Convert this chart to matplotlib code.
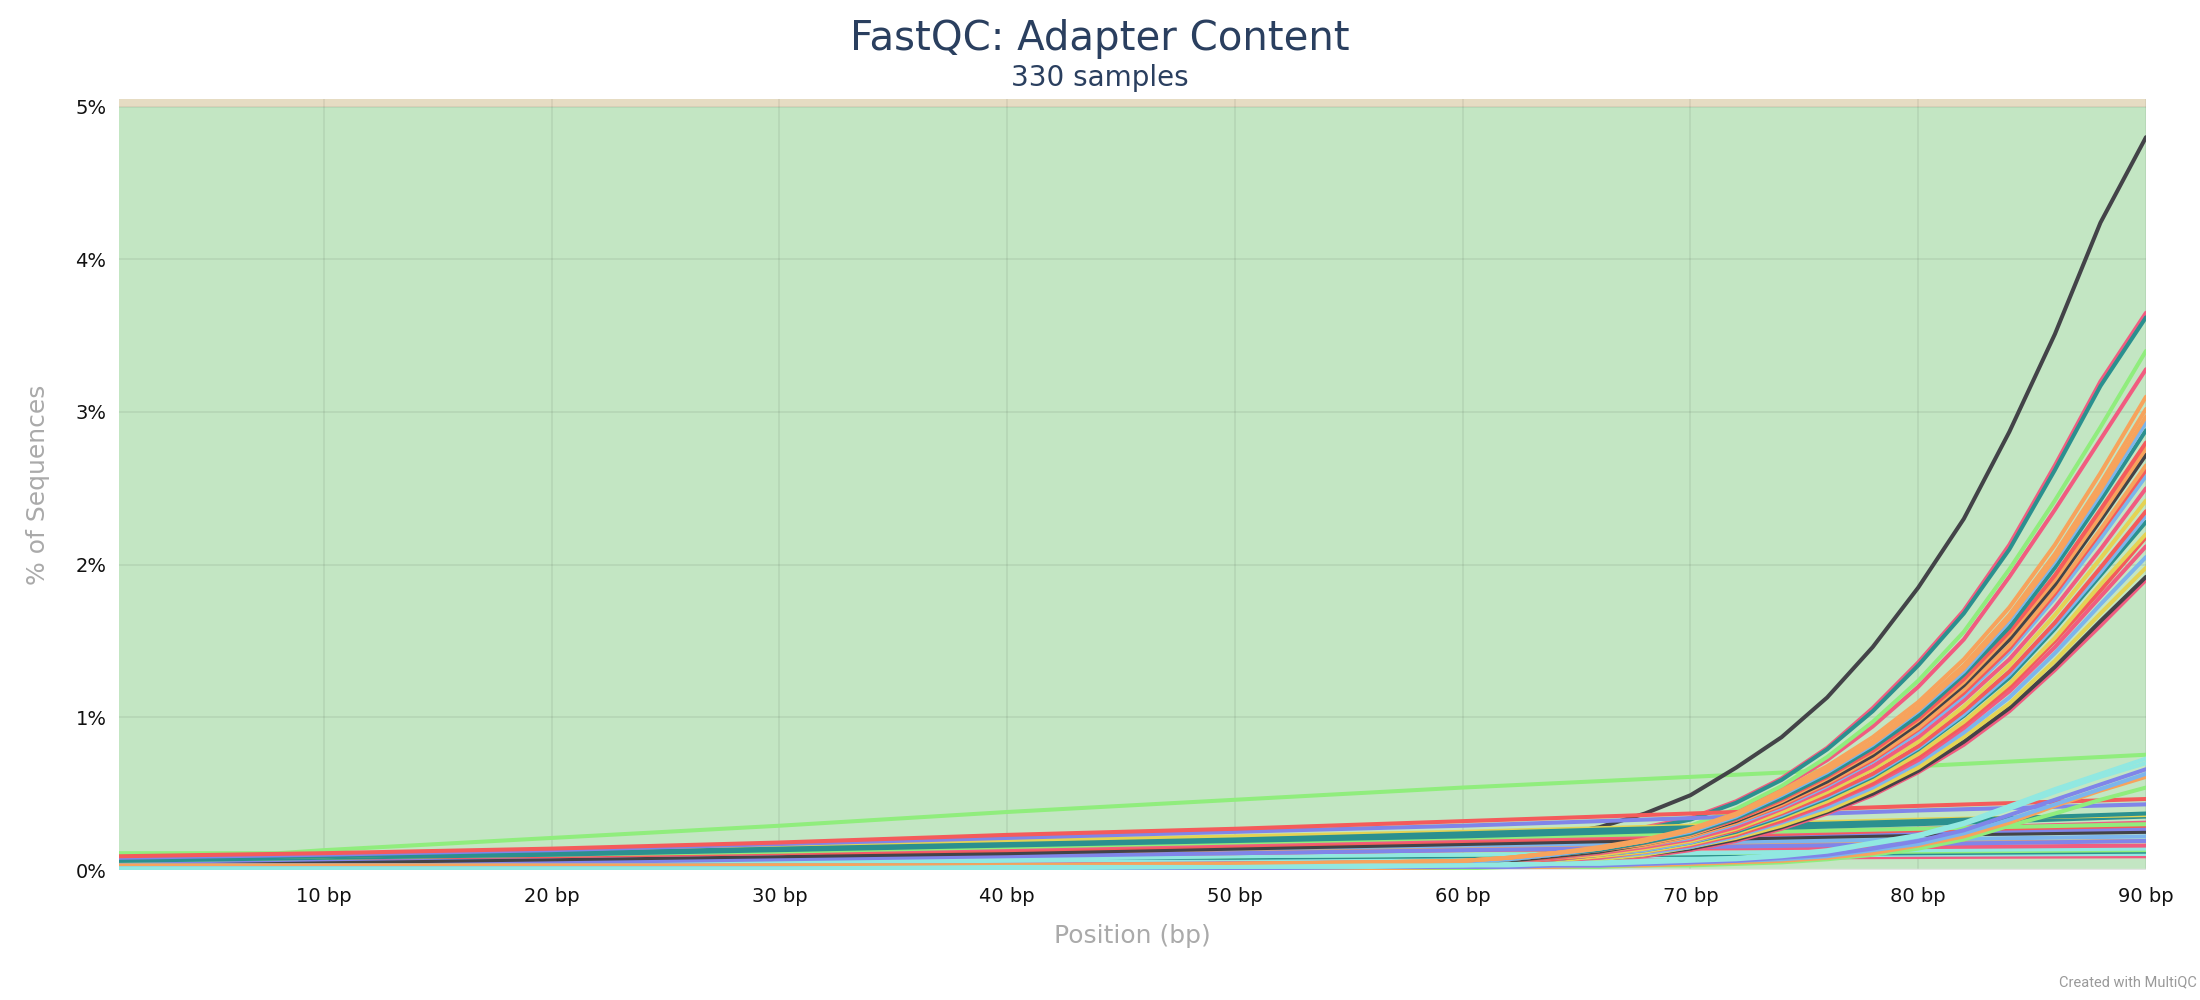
import matplotlib
matplotlib.use("Agg")
import matplotlib.pyplot as plt

# ---------------- palette (MultiQC / Highcharts default) ----------------
BLUE, DARK, GREEN, ORANGE, PURPLE = "#7cb5ec", "#434348", "#90ed7d", "#f7a35c", "#8085e9"
PINK, YELLOW, TEAL, RED, CYAN = "#f15c80", "#e4d354", "#2b908f", "#f45b5b", "#91e8e1"

TITLE = "FastQC: Adapter Content"
SUBTITLE = "330 samples"
X_LABEL = "Position (bp)"
Y_LABEL = "% of Sequences"
X_TICKS = [10, 20, 30, 40, 50, 60, 70, 80, 90]
X_TICK_LABELS = ["10 bp", "20 bp", "30 bp", "40 bp", "50 bp", "60 bp", "70 bp", "80 bp", "90 bp"]
Y_TICKS = [0, 1, 2, 3, 4, 5]
Y_TICK_LABELS = ["0%", "1%", "2%", "3%", "4%", "5%"]

# ---------------- positions ----------------
POS_FLAT = [1, 10, 20, 30, 40, 50, 60, 70, 80, 90]
POS_GREEN = [1, 8, 10, 20, 30, 40, 50, 60, 70, 80, 90]
POS_TAIL = [1, 10, 20, 30, 40, 50, 56, 60, 62, 64, 66, 68, 70, 72, 74, 76, 78, 80, 82, 84, 86, 88, 90]

# ---------------- near-flat samples (POS_FLAT) ----------------
f_red_hi    = [0.09, 0.11, 0.14, 0.18, 0.23, 0.27, 0.32, 0.37, 0.42, 0.465]
f_purple_hi = [0.08, 0.10, 0.13, 0.17, 0.21, 0.25, 0.29, 0.34, 0.39, 0.43]
f_teal_a    = [0.07, 0.09, 0.11, 0.14, 0.17, 0.20, 0.24, 0.28, 0.32, 0.37]
f_yellow    = [0.08, 0.09, 0.12, 0.15, 0.19, 0.22, 0.25, 0.29, 0.33, 0.36]
f_teal_b    = [0.06, 0.08, 0.10, 0.13, 0.16, 0.19, 0.22, 0.26, 0.30, 0.35]
f_green     = [0.06, 0.08, 0.10, 0.12, 0.15, 0.18, 0.21, 0.24, 0.27, 0.30]
f_pink_a    = [0.08, 0.09, 0.10, 0.12, 0.14, 0.17, 0.20, 0.23, 0.27, 0.31]
f_red_b     = [0.07, 0.08, 0.09, 0.11, 0.13, 0.16, 0.19, 0.22, 0.26, 0.29]
f_purple_b  = [0.05, 0.07, 0.09, 0.11, 0.15, 0.17, 0.20, 0.22, 0.25, 0.27]
f_dark      = [0.04, 0.05, 0.07, 0.09, 0.11, 0.14, 0.17, 0.20, 0.23, 0.25]
f_blue_a    = [0.07, 0.08, 0.10, 0.12, 0.14, 0.16, 0.18, 0.20, 0.23, 0.25]
f_blue_b    = [0.05, 0.06, 0.08, 0.10, 0.12, 0.14, 0.16, 0.18, 0.20, 0.22]
f_purple_c  = [0.03, 0.04, 0.05, 0.07, 0.09, 0.11, 0.13, 0.15, 0.17, 0.19]
f_orange    = [0.06, 0.07, 0.08, 0.09, 0.11, 0.12, 0.14, 0.16, 0.18, 0.19]
f_pink_b    = [0.08, 0.08, 0.09, 0.09, 0.10, 0.11, 0.13, 0.14, 0.15, 0.16]
f_cyan_b    = [0.03, 0.04, 0.05, 0.06, 0.07, 0.09, 0.10, 0.11, 0.13, 0.14]
f_green_b   = [0.055, 0.06, 0.06, 0.07, 0.08, 0.09, 0.10, 0.11, 0.12, 0.13]
f_teal_c    = [0.04, 0.05, 0.06, 0.07, 0.08, 0.08, 0.09, 0.10, 0.11, 0.12]
f_cyan      = [0.02, 0.03, 0.04, 0.05, 0.06, 0.07, 0.08, 0.09, 0.10, 0.105]
f_pink_c    = [0.02, 0.03, 0.04, 0.05, 0.05, 0.06, 0.07, 0.08, 0.085, 0.09]

# ---------------- steady riser (POS_GREEN) ----------------
green_line = [0.11, 0.11, 0.13, 0.21, 0.29, 0.38, 0.46, 0.54, 0.61, 0.68, 0.755]

# ---------------- late risers (POS_TAIL) ----------------
c_cyan1  = [0.01, 0.01, 0.01, 0.01, 0.02, 0.02, 0.03, 0.03, 0.04, 0.04, 0.05, 0.06, 0.07, 0.08, 0.10, 0.13, 0.18, 0.23, 0.31, 0.42, 0.53, 0.63, 0.73]
c_cyan2  = [0.01, 0.01, 0.01, 0.01, 0.01, 0.02, 0.02, 0.03, 0.03, 0.04, 0.04, 0.05, 0.06, 0.07, 0.09, 0.12, 0.17, 0.22, 0.30, 0.40, 0.51, 0.61, 0.70]
c_purple = [0.01, 0.01, 0.01, 0.01, 0.01, 0.01, 0.02, 0.02, 0.02, 0.03, 0.03, 0.04, 0.05, 0.06, 0.08, 0.10, 0.14, 0.19, 0.26, 0.36, 0.46, 0.56, 0.66]
c_blue   = [0.01, 0.01, 0.01, 0.01, 0.01, 0.01, 0.02, 0.02, 0.02, 0.03, 0.03, 0.04, 0.05, 0.06, 0.07, 0.09, 0.13, 0.17, 0.24, 0.33, 0.43, 0.53, 0.63]
c_orange = [0.01, 0.01, 0.01, 0.01, 0.01, 0.01, 0.01, 0.02, 0.02, 0.02, 0.03, 0.03, 0.04, 0.05, 0.06, 0.08, 0.11, 0.16, 0.22, 0.31, 0.42, 0.52, 0.61]
c_green  = [0.01, 0.01, 0.01, 0.01, 0.01, 0.01, 0.01, 0.01, 0.02, 0.02, 0.02, 0.03, 0.03, 0.04, 0.05, 0.07, 0.10, 0.14, 0.20, 0.29, 0.37, 0.46, 0.54]

# ---------------- main bundle (POS_TAIL) ----------------
b01 = [0.03, 0.03, 0.03, 0.03, 0.03, 0.04, 0.05, 0.06, 0.08, 0.11, 0.15, 0.20, 0.27, 0.37, 0.52, 0.68, 0.87, 1.10, 1.38, 1.72, 2.13, 2.60, 3.10]
b02 = [0.02, 0.02, 0.02, 0.03, 0.03, 0.04, 0.05, 0.06, 0.08, 0.11, 0.14, 0.19, 0.26, 0.36, 0.50, 0.66, 0.84, 1.07, 1.34, 1.67, 2.07, 2.53, 3.02]
b19 = [0.02, 0.02, 0.02, 0.02, 0.03, 0.04, 0.05, 0.06, 0.08, 0.11, 0.14, 0.19, 0.26, 0.36, 0.50, 0.65, 0.83, 1.05, 1.32, 1.65, 2.04, 2.49, 2.97]
b03 = [0.03, 0.03, 0.03, 0.03, 0.03, 0.04, 0.04, 0.05, 0.07, 0.10, 0.14, 0.19, 0.25, 0.35, 0.49, 0.64, 0.82, 1.04, 1.30, 1.63, 2.02, 2.46, 2.93]
b04 = [0.02, 0.02, 0.02, 0.02, 0.03, 0.03, 0.04, 0.05, 0.07, 0.10, 0.13, 0.18, 0.24, 0.34, 0.47, 0.62, 0.80, 1.01, 1.28, 1.59, 1.98, 2.42, 2.88]
b05 = [0.01, 0.01, 0.01, 0.01, 0.02, 0.03, 0.04, 0.05, 0.07, 0.10, 0.13, 0.18, 0.24, 0.33, 0.46, 0.61, 0.78, 0.99, 1.25, 1.56, 1.93, 2.36, 2.80]
b21 = [0.02, 0.02, 0.02, 0.02, 0.02, 0.03, 0.04, 0.05, 0.07, 0.10, 0.13, 0.17, 0.23, 0.33, 0.45, 0.60, 0.77, 0.98, 1.23, 1.54, 1.90, 2.32, 2.76]
b06 = [0.02, 0.02, 0.02, 0.02, 0.03, 0.03, 0.04, 0.05, 0.06, 0.09, 0.12, 0.17, 0.23, 0.32, 0.44, 0.58, 0.75, 0.96, 1.21, 1.51, 1.87, 2.29, 2.72]
b07 = [0.02, 0.02, 0.02, 0.02, 0.02, 0.03, 0.03, 0.04, 0.06, 0.09, 0.12, 0.16, 0.22, 0.31, 0.43, 0.57, 0.73, 0.93, 1.18, 1.47, 1.83, 2.23, 2.65]
b20 = [0.01, 0.01, 0.01, 0.02, 0.02, 0.03, 0.03, 0.04, 0.06, 0.08, 0.12, 0.16, 0.22, 0.31, 0.42, 0.56, 0.72, 0.92, 1.16, 1.45, 1.81, 2.21, 2.62]
b08 = [0.03, 0.03, 0.03, 0.03, 0.03, 0.03, 0.04, 0.04, 0.06, 0.08, 0.12, 0.16, 0.21, 0.30, 0.41, 0.55, 0.71, 0.90, 1.14, 1.43, 1.78, 2.17, 2.58]
b09 = [0.02, 0.02, 0.02, 0.02, 0.02, 0.03, 0.03, 0.04, 0.05, 0.08, 0.11, 0.15, 0.20, 0.28, 0.40, 0.53, 0.68, 0.87, 1.11, 1.38, 1.72, 2.10, 2.50]
b10 = [0.02, 0.02, 0.02, 0.02, 0.02, 0.03, 0.03, 0.04, 0.05, 0.08, 0.10, 0.14, 0.19, 0.27, 0.38, 0.51, 0.66, 0.84, 1.07, 1.34, 1.67, 2.04, 2.42]
b11 = [0.01, 0.01, 0.01, 0.01, 0.01, 0.02, 0.02, 0.03, 0.05, 0.07, 0.10, 0.14, 0.19, 0.26, 0.37, 0.49, 0.63, 0.81, 1.04, 1.30, 1.62, 1.98, 2.35]
b22 = [0.02, 0.02, 0.02, 0.02, 0.02, 0.02, 0.03, 0.03, 0.05, 0.07, 0.10, 0.13, 0.18, 0.26, 0.36, 0.48, 0.62, 0.80, 1.02, 1.28, 1.60, 1.95, 2.32]
b12 = [0.02, 0.02, 0.02, 0.02, 0.02, 0.02, 0.03, 0.03, 0.05, 0.07, 0.10, 0.13, 0.18, 0.25, 0.35, 0.47, 0.61, 0.79, 1.01, 1.26, 1.58, 1.93, 2.28]
b13 = [0.02, 0.02, 0.02, 0.02, 0.02, 0.02, 0.03, 0.03, 0.04, 0.06, 0.09, 0.12, 0.17, 0.24, 0.34, 0.45, 0.59, 0.76, 0.97, 1.22, 1.52, 1.87, 2.20]
b23 = [0.01, 0.01, 0.01, 0.01, 0.02, 0.02, 0.02, 0.03, 0.04, 0.06, 0.09, 0.12, 0.17, 0.23, 0.33, 0.44, 0.57, 0.74, 0.95, 1.20, 1.50, 1.83, 2.18]
b14 = [0.02, 0.02, 0.02, 0.02, 0.02, 0.02, 0.02, 0.03, 0.04, 0.06, 0.08, 0.12, 0.16, 0.23, 0.32, 0.43, 0.56, 0.72, 0.93, 1.17, 1.46, 1.79, 2.12]
b15 = [0.01, 0.01, 0.01, 0.02, 0.02, 0.02, 0.02, 0.02, 0.04, 0.06, 0.08, 0.11, 0.15, 0.22, 0.31, 0.41, 0.54, 0.70, 0.90, 1.13, 1.42, 1.74, 2.05]
b16 = [0.01, 0.01, 0.01, 0.01, 0.01, 0.02, 0.02, 0.02, 0.03, 0.05, 0.07, 0.10, 0.15, 0.21, 0.29, 0.39, 0.52, 0.67, 0.87, 1.09, 1.37, 1.68, 1.98]
b17 = [0.01, 0.01, 0.01, 0.01, 0.02, 0.02, 0.02, 0.02, 0.03, 0.05, 0.07, 0.10, 0.14, 0.20, 0.28, 0.38, 0.50, 0.65, 0.84, 1.06, 1.33, 1.63, 1.92]
b18 = [0.01, 0.01, 0.01, 0.01, 0.01, 0.01, 0.02, 0.02, 0.03, 0.04, 0.06, 0.09, 0.13, 0.19, 0.27, 0.37, 0.49, 0.64, 0.82, 1.04, 1.31, 1.60, 1.90]

# ---------------- top samples (POS_TAIL) ----------------
pink_3    = [0.02, 0.03, 0.03, 0.04, 0.05, 0.06, 0.07, 0.07, 0.09, 0.12, 0.16, 0.21, 0.28, 0.39, 0.54, 0.72, 0.94, 1.20, 1.51, 1.92, 2.36, 2.82, 3.28]
green_top = [0.02, 0.03, 0.04, 0.05, 0.05, 0.06, 0.07, 0.08, 0.10, 0.13, 0.17, 0.22, 0.29, 0.40, 0.55, 0.74, 0.97, 1.24, 1.56, 1.97, 2.42, 2.90, 3.40]
pink_top  = [0.03, 0.05, 0.07, 0.10, 0.13, 0.16, 0.18, 0.20, 0.21, 0.22, 0.24, 0.28, 0.34, 0.45, 0.60, 0.80, 1.06, 1.36, 1.70, 2.13, 2.65, 3.20, 3.65]
teal_top  = [0.03, 0.05, 0.07, 0.10, 0.13, 0.16, 0.18, 0.20, 0.21, 0.22, 0.24, 0.27, 0.33, 0.44, 0.59, 0.79, 1.04, 1.34, 1.68, 2.10, 2.62, 3.17, 3.62]
black_top = [0.05, 0.07, 0.09, 0.11, 0.13, 0.16, 0.18, 0.19, 0.20, 0.23, 0.28, 0.37, 0.49, 0.67, 0.87, 1.13, 1.46, 1.85, 2.30, 2.87, 3.51, 4.24, 4.80]

# draw order (bottom to top)
top_series = [
    (pink_3, PINK), (green_top, GREEN), (pink_top, PINK), (teal_top, TEAL), (black_top, DARK),
]
flat_series = [
    (f_pink_c, PINK), (f_cyan, CYAN), (f_teal_c, TEAL), (f_green_b, GREEN), (f_cyan_b, CYAN),
    (f_pink_b, PINK), (f_orange, ORANGE), (f_purple_c, PURPLE), (f_blue_b, BLUE), (f_blue_a, BLUE),
    (f_dark, DARK), (f_purple_b, PURPLE), (f_red_b, RED), (f_pink_a, PINK), (f_green, GREEN),
    (f_teal_b, TEAL), (f_yellow, YELLOW), (f_teal_a, TEAL), (f_purple_hi, PURPLE), (f_red_hi, RED),
]
bundle_series = [
    (b18, PINK), (b17, DARK), (b16, YELLOW), (b15, BLUE), (b14, PINK), (b23, RED), (b13, YELLOW),
    (b12, TEAL), (b22, BLUE), (b11, RED), (b10, YELLOW), (b09, PINK), (b08, BLUE), (b20, RED),
    (b07, ORANGE), (b06, DARK), (b21, ORANGE), (b05, RED), (b04, TEAL), (b03, BLUE), (b19, ORANGE),
    (b02, ORANGE), (b01, ORANGE),
]
riser_series = [
    (c_green, GREEN), (c_orange, ORANGE), (c_blue, BLUE), (c_purple, PURPLE), (c_cyan2, CYAN), (c_cyan1, CYAN),
]

W, H = 2200, 1000
fig = plt.figure(figsize=(W / 100, H / 100), dpi=100)
L, R, T, B = 119, 2146, 99, 870
ax = fig.add_axes([L / W, 1 - B / H, (R - L) / W, (B - T) / H])
ax.set_xlim(1, 90)
ax.set_ylim(0, 5.05)

ax.axhspan(0, 5, color="#c3e6c3", zorder=0, lw=0)
ax.axhspan(5, 20, color="#e6dcc3", zorder=0, lw=0)
for s in ax.spines.values():
    s.set_visible(False)

ax.set_xticks(X_TICKS)
ax.set_xticklabels(X_TICK_LABELS)
ax.set_yticks(Y_TICKS)
ax.set_yticklabels(Y_TICK_LABELS)
ax.tick_params(axis="both", length=0, labelsize=14, labelcolor="#111111")
ax.tick_params(axis="y", pad=9)
ax.tick_params(axis="x", pad=12)
ax.grid(True, color="#000000", alpha=0.06, lw=1.4, zorder=0.5)
ax.set_axisbelow(True)
ax.axhline(0, color="#e4e4e4", lw=2.5, zorder=0.8)

LW = 2.9
z = 2.0
ax.plot(POS_GREEN, green_line, color=GREEN, lw=LW, zorder=z, solid_capstyle="round")
for group, pos in ((top_series, POS_TAIL), (flat_series, POS_FLAT),
                   (bundle_series, POS_TAIL), (riser_series, POS_TAIL)):
    for vals, col in group:
        z += 0.01
        ax.plot(pos, vals, color=col, lw=LW, zorder=z, solid_capstyle="round")

fig.text(0.5, 1 - 50 / H, TITLE, ha="center", va="baseline", fontsize=29, color="#2a3f5f")
fig.text(0.5, 1 - 86 / H, SUBTITLE, ha="center", va="baseline", fontsize=20, color="#2a3f5f")
fig.text((L + R) / 2 / W, 1 - 936 / H, X_LABEL, ha="center", va="center", fontsize=18, color="#aaaaaa")
fig.text(38 / W, 1 - (T + B) / 2 / H, Y_LABEL, ha="center", va="center", rotation=90, fontsize=18, color="#aaaaaa")
fig.text(2197 / W, 1 - 986 / H, "Created with MultiQC", ha="right", va="baseline",
         fontsize=10.5, color="#9a9a9a", family=["Roboto", "DejaVu Sans"])

fig.savefig("out.png", dpi=100)
